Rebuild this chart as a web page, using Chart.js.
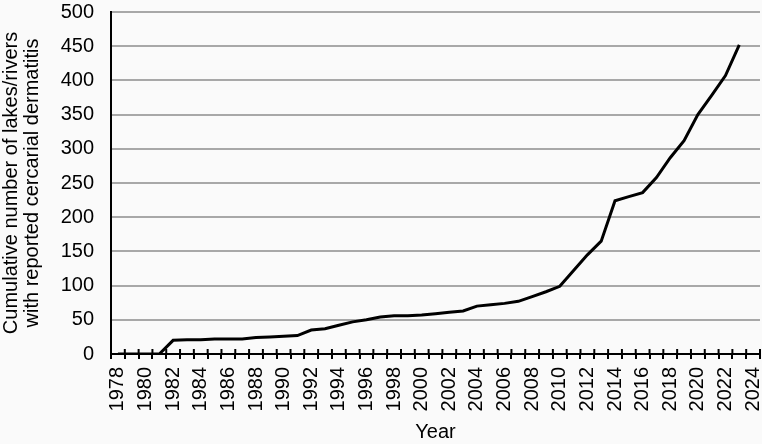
<!DOCTYPE html>
<html>
<head>
<meta charset="utf-8">
<script src="https://cdn.jsdelivr.net/npm/chart.js@4.4.0/dist/chart.umd.min.js"></script>
<style>
  body { margin: 0; background: #fafafa; }
  #wrap { width: 762px; height: 444px; }
</style>
</head>
<body>
<div id="wrap"><canvas id="lakes-chart" width="762" height="444"></canvas></div>
<script>
// categories: one per year, 1978..2024
const years = [];
for (let y = 1978; y <= 2024; y++) years.push(String(y));

// cumulative number of lakes/rivers, 1978..2023
const cumulative = [
  0, 0, 0, 0, 20, 21, 21, 22, 22, 22,
  24, 25, 26, 27, 35, 37, 42, 47, 50, 54,
  56, 56, 57, 59, 61, 63, 70, 72, 74, 77,
  84, 91, 99, 122, 145, 165, 224, 230, 236, 258,
  287, 312, 350, 378, 407, 452, null
];

const yMin = 0;
const yMax = 500;
const yStep = 50;

const labelFont = { family: 'Liberation Sans, Arial, sans-serif', size: 20 };

// tick marks that cross the x axis (the part above the line)
const crossTicks = {
  id: 'crossTicks',
  beforeDatasetsDraw(chart) {
    const xs = chart.scales.x;
    const ctx = chart.ctx;
    const base = chart.chartArea.bottom;
    ctx.save();
    ctx.strokeStyle = '#000';
    ctx.lineWidth = 2;
    for (let i = 0; i <= years.length; i++) {
      const px = xs.getPixelForValue(i - 0.5);
      ctx.beginPath();
      ctx.moveTo(px, base);
      ctx.lineTo(px, base - 5);
      ctx.stroke();
    }
    ctx.restore();
  }
};

const ctx = document.getElementById('lakes-chart').getContext('2d');
new Chart(ctx, {
  type: 'line',
  data: {
    labels: years,
    datasets: [{
      data: cumulative,
      borderColor: '#000',
      borderWidth: 3,
      pointRadius: 0,
      tension: 0,
      fill: false
    }]
  },
  options: {
    responsive: false,
    animation: false,
    layout: { padding: { top: 12, right: 2, left: 0, bottom: 0 } },
    plugins: {
      legend: { display: false },
      tooltip: { enabled: false }
    },
    scales: {
      x: {
        type: 'category',
        offset: true,
        grid: {
          offset: true,
          drawOnChartArea: false,
          drawTicks: true,
          tickLength: 5,
          color: '#000',
          lineWidth: 2
        },
        border: { color: '#000', width: 2 },
        ticks: {
          autoSkip: false,
          maxRotation: 90,
          minRotation: 90,
          padding: 8,
          color: '#000',
          font: labelFont,
          callback: function (val, i) {
            return i % 2 === 0 ? years[i] : '';
          }
        },
        title: {
          display: true,
          text: 'Year',
          color: '#000',
          font: labelFont,
          padding: { top: 0, bottom: 0 }
        },
        afterFit: function (scale) {
          scale.height = 90;
          scale.paddingLeft = 0;
          scale.paddingRight = 0;
        }
      },
      y: {
        min: yMin,
        max: yMax,
        grid: {
          color: '#a8a8a8',
          lineWidth: 2,
          drawTicks: false
        },
        border: { color: '#000', width: 2 },
        ticks: {
          stepSize: yStep,
          padding: 17,
          color: '#000',
          font: labelFont
        },
        title: {
          display: true,
          text: ['Cumulative number of lakes/rivers', 'with reported cercarial dermatitis'],
          color: '#000',
          font: { family: labelFont.family, size: 20, lineHeight: 1.05 },
          padding: { top: 1, bottom: 0 }
        },
        afterFit: function (scale) {
          scale.width = 111;
          scale.paddingTop = 0;
          scale.paddingBottom = 0;
        }
      }
    }
  },
  plugins: [crossTicks]
});
</script>
</body>
</html>
